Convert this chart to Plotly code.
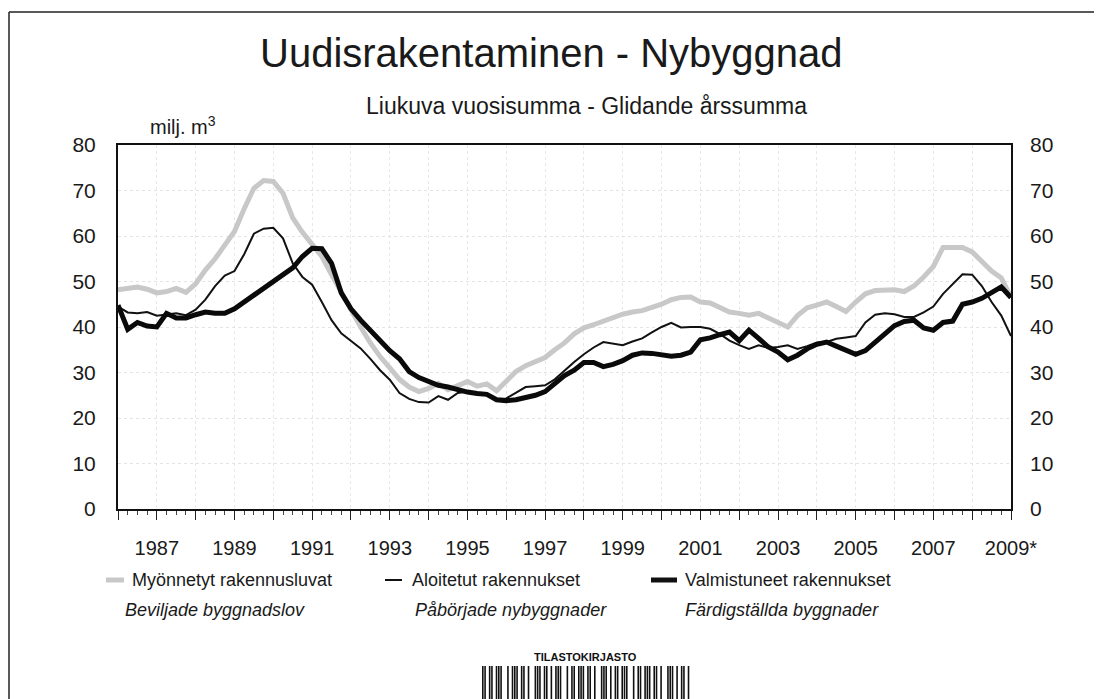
import plotly.graph_objects as go

# ---------------- data (quarterly moving annual sums, milj. m3) ----------------
start_year = 1986
n_quarters = 93  # 1986.00 ... 2009.00

permits = [  # Myönnetyt rakennusluvat / Beviljade byggnadslov
    48.2, 48.5, 48.8, 48.3,
    47.5, 47.8, 48.5, 47.6,
    49.5, 52.5, 55.0, 58.0,
    61.0, 66.0, 70.5, 72.2,
    72.0, 69.4, 64.0, 60.8,
    58.0, 55.5, 51.5, 47.5,
    43.5, 40.0, 36.5, 33.5,
    31.0, 28.5, 26.8, 25.8,
    26.5, 27.6, 26.2, 27.0,
    28.0, 27.0, 27.5, 26.0,
    28.0, 30.2, 31.5, 32.3,
    33.3, 35.0, 36.5, 38.5,
    39.8, 40.5, 41.3, 42.0,
    42.8, 43.3, 43.6, 44.3,
    45.0, 46.0, 46.5, 46.6,
    45.5, 45.3, 44.2, 43.3,
    43.0, 42.6, 43.0, 42.0,
    41.2, 40.0, 42.5, 44.2,
    44.8, 45.5, 44.5, 43.4,
    45.5, 47.3, 48.0, 48.0,
    48.2, 47.8, 49.0, 51.0,
    53.3, 57.5, 57.6, 57.5,
    56.5, 54.3, 52.3, 50.8,
    46.5,
]

starts = [  # Aloitetut rakennukset / Påbörjade nybyggnader
    44.5, 43.2, 43.0, 43.3,
    42.5, 42.8, 43.0, 42.6,
    43.8, 46.0, 49.0, 51.3,
    52.3, 56.0, 60.5, 61.6,
    61.8, 59.5, 54.0, 51.0,
    49.3, 45.5, 41.5, 38.6,
    37.0, 35.3, 33.0, 30.5,
    28.4, 25.5, 24.2, 23.5,
    23.4, 24.8, 24.0, 25.5,
    25.8, 25.3, 25.0, 24.2,
    24.3, 25.5, 26.8, 27.0,
    27.2, 28.5, 30.5, 32.3,
    34.0, 35.5, 36.7, 36.3,
    36.0, 36.8, 37.5, 38.8,
    40.0, 40.9, 39.9, 40.0,
    40.0, 39.6, 38.5, 37.0,
    36.0, 35.2, 36.0, 35.4,
    35.6, 36.0, 35.2, 35.8,
    36.6, 36.7, 37.4, 37.7,
    38.0, 41.0, 42.7, 43.0,
    42.8, 42.2, 42.2, 43.2,
    44.5, 47.3, 49.5, 51.6,
    51.5, 49.0, 45.5, 42.5,
    38.0,
]

completions = [  # Valmistuneet rakennukset / Färdigställda byggnader
    44.8, 39.5, 41.0, 40.2,
    40.0, 43.0, 42.0, 42.0,
    42.7, 43.3, 43.0, 43.0,
    44.0, 45.5, 47.0, 48.2,
    49.8, 51.5, 53.0, 55.5,
    57.3, 57.2, 54.0, 47.5,
    44.0, 41.5, 39.3, 37.0,
    34.8, 33.0, 30.2, 28.9,
    28.0, 27.2, 26.8, 26.2,
    25.7, 25.4, 25.2, 24.0,
    23.8, 24.0, 24.4, 25.0,
    25.8, 27.4, 29.3, 30.5,
    32.2, 32.2, 31.3, 31.8,
    32.6, 33.8, 34.3, 34.2,
    33.8, 33.6, 33.8, 34.5,
    37.2, 37.6, 38.3, 38.9,
    37.0, 39.3, 37.5, 35.6,
    34.5, 32.8, 33.8, 35.2,
    36.2, 36.7, 35.8, 35.0,
    34.0, 34.8, 36.6, 38.3,
    40.3, 41.2, 41.5, 39.8,
    39.3, 41.0, 41.3, 45.0,
    45.5, 46.3, 47.6, 48.8,
    46.5,
]

x_quarters = [start_year + i / 4 for i in range(n_quarters)]

year_ticks = list(range(1986, 2010))
year_labels = ["" if y % 2 == 0 else str(y) for y in year_ticks]
year_labels[-1] = "2009*"
y_ticks = [0, 10, 20, 30, 40, 50, 60, 70, 80]

series_names = [
    ("Myönnetyt rakennusluvat", "Beviljade byggnadslov"),
    ("Aloitetut rakennukset", "Påbörjade nybyggnader"),
    ("Valmistuneet rakennukset", "Färdigställda byggnader"),
]

# ---------------- styling / layout ----------------
OFF = 8  # page body margin
W, H = 1102 - OFF, 699 - OFF
PL, PR, PT, PB = 118, 1011, 145, 509  # plot area, screen pixels
FONT = "Liberation Sans, Arial, sans-serif"
TXT = "#1a1a1a"
GRAY = "#c8c8c8"


def px(x):
    return (x - PL) / (PR - PL)


def py(y):
    return (PB - y) / (PB - PT)


fig = go.Figure()
fig.add_trace(go.Scatter(x=x_quarters, y=permits, mode="lines",
                         line=dict(color=GRAY, width=5), showlegend=False, hoverinfo="skip"))
fig.add_trace(go.Scatter(x=x_quarters, y=starts, mode="lines",
                         line=dict(color="#111111", width=2), showlegend=False))
fig.add_trace(go.Scatter(x=x_quarters, y=completions, mode="lines",
                         line=dict(color="#0a0a0a", width=5), showlegend=False))
# invisible trace to activate right-hand axis
fig.add_trace(go.Scatter(x=x_quarters, y=completions, yaxis="y2", mode="lines",
                         line=dict(width=0), opacity=0, showlegend=False, hoverinfo="skip"))

annotations = [
    dict(text="Uudisrakentaminen - Nybyggnad", x=px(551), y=py(53), font=dict(size=40)),
    dict(text="Liukuva vuosisumma - Glidande årssumma", x=px(586), y=py(106), font=dict(size=23)),
    dict(text="milj. m<sup>3</sup>", x=px(148), y=py(126), xanchor="left", font=dict(size=20)),
    dict(text="<b>TILASTOKIRJASTO</b>", x=px(585), y=py(657),
         font=dict(size=11, family="Liberation Sans, Arial", color="#111")),
]
leg_x_text = [130, 410, 683]
leg_x_ital = [123, 413, 683]
for (fi, sv), xt, xi in zip(series_names, leg_x_text, leg_x_ital):
    annotations.append(dict(text=fi, x=px(xt), y=py(580), xanchor="left", font=dict(size=18)))
    annotations.append(dict(text="<i>" + sv + "</i>", x=px(xi), y=py(610), xanchor="left", font=dict(size=18)))
for a in annotations:
    a.setdefault("xref", "paper")
    a.setdefault("yref", "paper")
    a.setdefault("showarrow", False)
    a.setdefault("xanchor", "center")
    a["yanchor"] = "middle"

frame = dict(color="#222", width=1.5)
shapes = [
    # page frame
    dict(type="line", xref="paper", yref="paper", x0=px(9), x1=px(1097), y0=py(12), y1=py(12), line=frame),
    dict(type="line", xref="paper", yref="paper", x0=px(9), x1=px(9), y0=py(12), y1=py(699), line=frame),
    dict(type="line", xref="paper", yref="paper", x0=px(1097), x1=px(1097), y0=py(12), y1=py(699), line=frame),
    # legend samples
    dict(type="line", xref="paper", yref="paper", x0=px(106), x1=px(124), y0=py(580), y1=py(580),
         line=dict(color=GRAY, width=5)),
    dict(type="line", xref="paper", yref="paper", x0=px(385), x1=px(402), y0=py(580), y1=py(580),
         line=dict(color="#111", width=2)),
    dict(type="line", xref="paper", yref="paper", x0=px(651), x1=px(677), y0=py(580), y1=py(580),
         line=dict(color="#111", width=5)),
]
# decorative barcode sticker
barcode_pattern = "1101101110010111011010011101101011100101101110110100111010110111001011011101101001110101101"
bx0, bx1 = 482, 690
bw = (bx1 - bx0) / len(barcode_pattern)
for i, c in enumerate(barcode_pattern):
    if c == "1":
        shapes.append(dict(type="rect", xref="paper", yref="paper",
                           x0=px(bx0 + i * bw), x1=px(bx0 + (i + 0.7) * bw),
                           y0=py(699), y1=py(666), line=dict(width=0), fillcolor="#111"))

fig.update_layout(
    width=W, height=H, autosize=False,
    margin=dict(l=PL - OFF, r=W - (PR - OFF), t=PT - OFF, b=H - (PB - OFF), pad=0),
    paper_bgcolor="white", plot_bgcolor="white",
    font=dict(family=FONT, color=TXT, size=21),
    showlegend=False,
    annotations=annotations,
    shapes=shapes,
    xaxis=dict(
        range=[1986, 2009], tickmode="array", tickvals=year_ticks, ticktext=year_labels,
        ticks="outside", ticklen=9, tickwidth=1, tickcolor="#222",
        minor=dict(ticks="outside", ticklen=4, tickwidth=1, tickcolor="#444", dtick=0.25, tick0=1986,
                   showgrid=False),
        showgrid=True, gridcolor="#e8e8e8", griddash="dot", gridwidth=1,
        showline=True, linecolor="#111", linewidth=2, mirror=True,
        zeroline=False, ticklabelstandoff=11, tickfont=dict(size=20),
    ),
    yaxis=dict(
        range=[0, 80], tickmode="array", tickvals=y_ticks,
        ticks="", showgrid=True, gridcolor="#e4e4e4", griddash="dot", gridwidth=1,
        showline=True, linecolor="#111", linewidth=2, mirror=True,
        zeroline=False, ticklabelstandoff=16, tickfont=dict(size=21),
    ),
    yaxis2=dict(
        range=[0, 80], tickmode="array", tickvals=y_ticks, overlaying="y", side="right",
        ticks="", showgrid=False, showline=False, zeroline=False,
        ticklabelstandoff=18, tickfont=dict(size=21),
    ),
)

fig.write_html("out.html")
